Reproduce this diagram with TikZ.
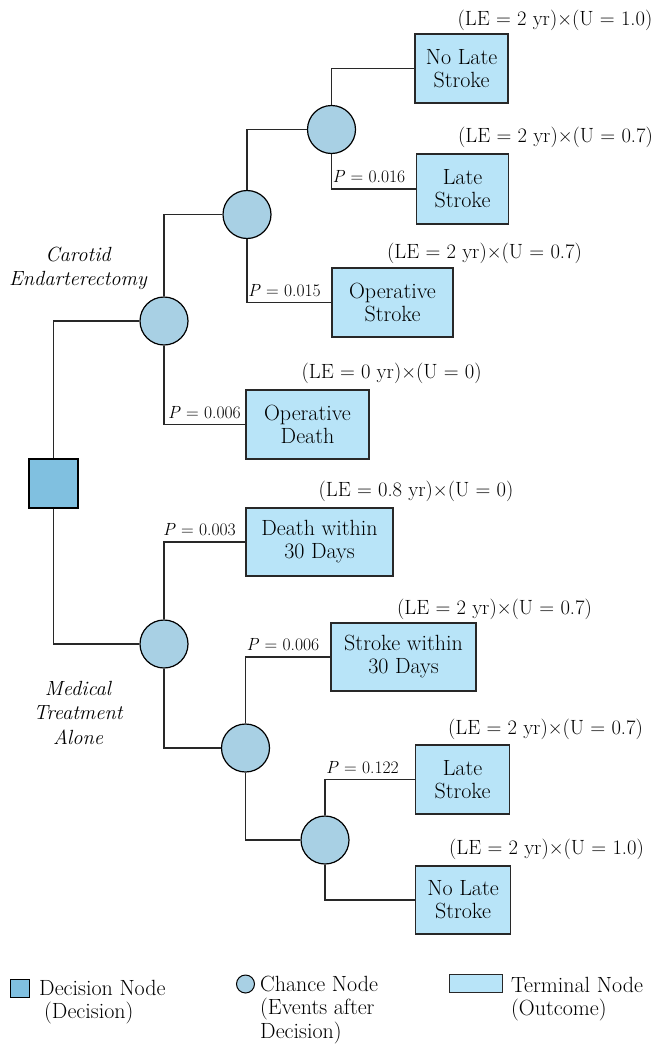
\documentclass[tikz,border=0pt]{standalone}
\usepackage{fontspec}
\definecolor{termfill}{RGB}{184,228,248}
\definecolor{chancefill}{RGB}{168,208,228}
\definecolor{decfill}{RGB}{128,192,224}
\definecolor{edgecol}{RGB}{40,40,40}
\newcommand\myboxfont{\fontsize{22}{23}\selectfont}
\newcommand\mylefont{\fontsize{20.6}{22}\selectfont}
\newcommand\mypfont{\fontsize{17.6}{20}\selectfont}
\newcommand\myitfont{\fontsize{20.5}{24.5}\selectfont\itshape}
\newcommand\mylegfont{\fontsize{22}{23.5}\selectfont}
\tikzset{
  term/.style={draw=edgecol, fill=termfill, line width=1.2pt, align=center, inner sep=0pt, font=\myboxfont},
  chance/.style={circle, draw=black, fill=chancefill, line width=1.2pt, minimum size=48pt, inner sep=0pt},
  decision/.style={rectangle, draw=black, fill=decfill, line width=1.3pt, minimum size=49pt, inner sep=0pt},
  link/.style={line width=1.1pt, draw=edgecol},
  plab/.style={font=\mypfont, inner sep=0pt, anchor=base west, xshift=1pt, yshift=6.5pt},
  lelab/.style={font=\mylefont, inner sep=0pt, anchor=west},
  itlab/.style={font=\myitfont, align=center, inner sep=0pt},
  legtext/.style={font=\mylegfont, align=left, inner sep=0pt, anchor=north west}
}
\begin{document}
\begin{tikzpicture}[x=1pt,y=-1pt]
\useasboundingbox (0,0) rectangle (656,1044);

% chance / decision nodes
\node[decision] (D) at (53.5,483.5) {};
\node[chance] (C1) at (164,321) {};
\node[chance] (C2) at (247,214.5) {};
\node[chance] (C3) at (331.5,129.5) {};
\node[chance] (C4) at (164,644) {};
\node[chance] (C5) at (245.5,748) {};
\node[chance] (C6) at (325,840) {};

% terminal nodes
\node[term, minimum width=93pt, minimum height=69pt] (T1) at (461.5,68.5) {No Late\\Stroke};
\node[term, minimum width=92pt, minimum height=70pt] (T2) at (462.5,189) {Late\\Stroke};
\node[term, minimum width=121pt, minimum height=69pt] (T3) at (392.5,302.5) {Operative\\Stroke};
\node[term, minimum width=123pt, minimum height=69pt] (T4) at (307.5,424.5) {Operative\\Death};
\node[term, minimum width=147pt, minimum height=68pt] (T5) at (319.5,542) {Death within\\30 Days};
\node[term, minimum width=145pt, minimum height=68pt] (T6) at (403.5,657) {Stroke within\\30 Days};
\node[term, minimum width=94pt, minimum height=69pt] (T7) at (462.5,779.5) {Late\\Stroke};
\node[term, minimum width=95pt, minimum height=68pt] (T8) at (463,900) {No Late\\Stroke};

% connectors
\draw[link] (D.north) |- (C1.west);
\draw[link] (C1.north) |- (C2.west);
\draw[link] (C2.north) |- (C3.west);
\draw[link] (C3.north) |- (T1.west);
\draw[link] (C3.south) |- (T2.west);
\draw[link] (C2.south) |- (T3.west);
\draw[link] (C1.south) |- (T4.west);
\draw[link] (D.south) |- (C4.west);
\draw[link] (C4.north) |- (T5.west);
\draw[link] (C4.south) |- (C5.west);
\draw[link] (C5.north) |- (T6.west);
\draw[link] (C5.south) |- (C6.west);
\draw[link] (C6.north) |- (T7.west);
\draw[link] (C6.south) |- (T8.west);

% probability labels
\node[plab] (P2) at (C3.south |- T2.west) {\textit{P} = 0.016};
\node[plab] (P3) at (C2.south |- T3.west) {\textit{P} = 0.015};
\node[plab, xshift=3pt] (P4) at (C1.south |- T4.west) {\textit{P} = 0.006};
\node[plab, xshift=-2pt] (P5) at (C4.north |- T5.west) {\textit{P} = 0.003};
\node[plab] (P6) at (C5.north |- T6.west) {\textit{P} = 0.006};
\node[plab] (P7) at (C6.north |- T7.west) {\textit{P} = 0.122};

% outcome value labels
\node[lelab] (L1) at (457.5,20) {(LE = 2 yr)×(U = 1.0)};
\node[lelab] (L2) at (458,137) {(LE = 2 yr)×(U = 0.7)};
\node[lelab] (L3) at (387,253) {(LE = 2 yr)×(U = 0.7)};
\node[lelab] (L4) at (301.5,373) {(LE = 0 yr)×(U = 0)};
\node[lelab] (L5) at (318.5,491) {(LE = 0.8 yr)×(U = 0)};
\node[lelab] (L6) at (397,609) {(LE = 2 yr)×(U = 0.7)};
\node[lelab] (L7) at (448,729) {(LE = 2 yr)×(U = 0.7)};
\node[lelab] (L8) at (449,849) {(LE = 2 yr)×(U = 1.0)};

% decision branch labels
\node[itlab] (CE) at (78,268.5) {Carotid\\Endarterectomy};
\node[itlab] (MT) at (78,712.5) {Medical\\Treatment\\Alone};

% legend
\node[decision, minimum width=19pt, minimum height=18pt, line width=1pt] (LD) at (20,988) {};
\node[legtext] (LDt) at (39,980) {Decision Node\\\hspace*{5pt}(Decision)};
\node[chance, minimum size=18pt, line width=1pt] (LC) at (245.5,984) {};
\node[legtext] (LCt) at (260,975.5) {Chance Node\\(Events after\\Decision)};
\node[term, minimum width=53.5pt, minimum height=18.5pt, line width=1pt] (LT) at (475.8,983.4) {};
\node[legtext] (LTt) at (511,977) {Terminal Node\\(Outcome)};
\end{tikzpicture}
\end{document}
